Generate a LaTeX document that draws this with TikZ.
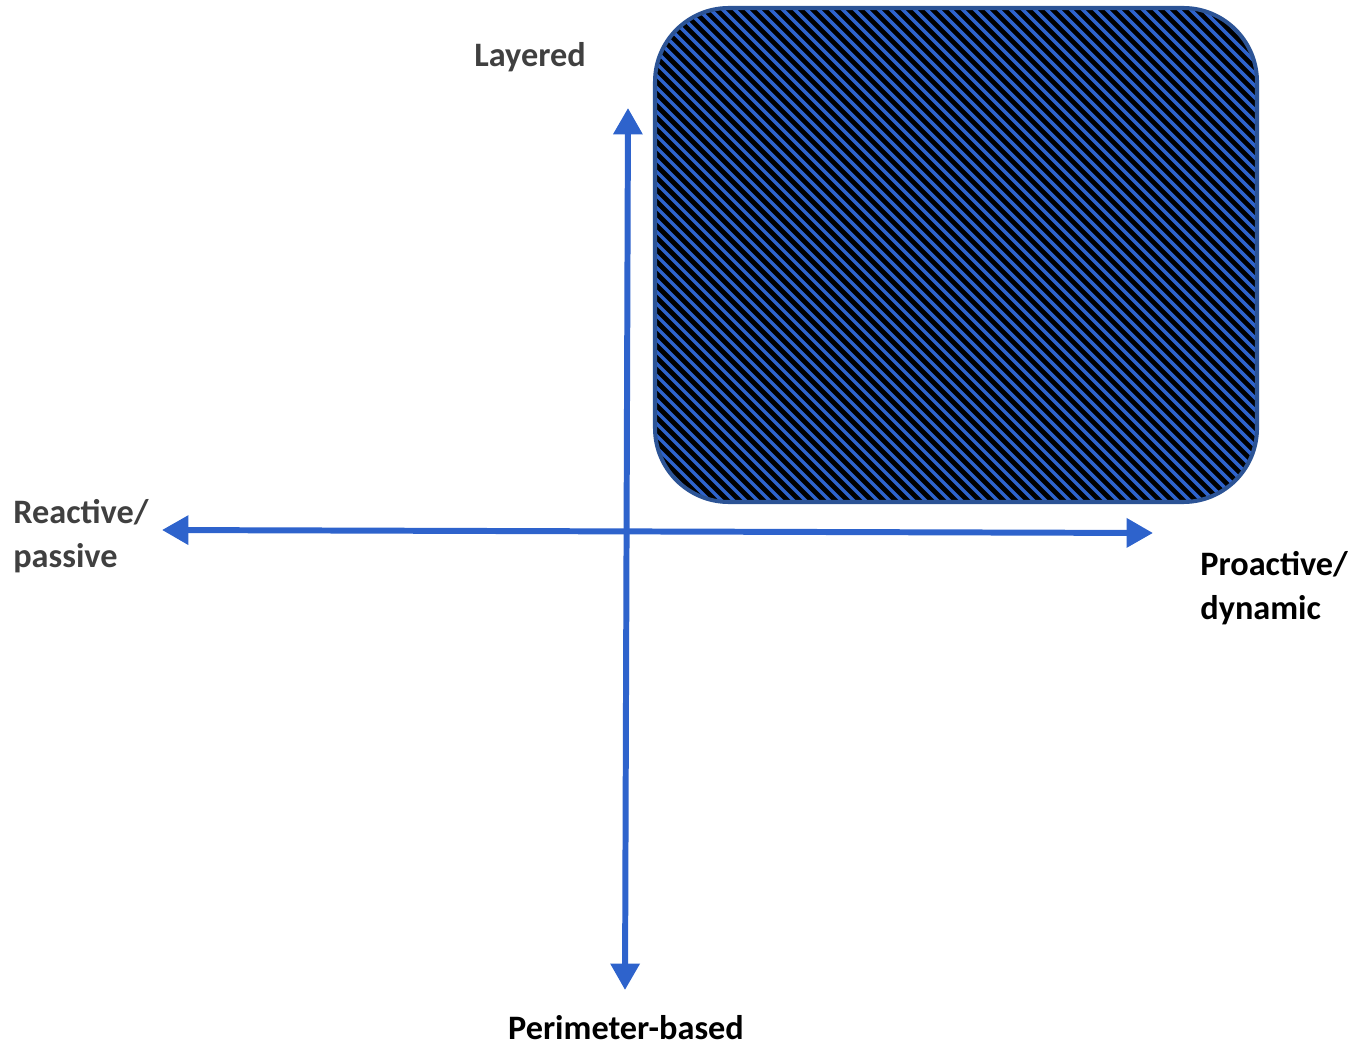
\documentclass[tikz,border=0pt]{standalone}
\usepackage{fontspec}
\setmainfont{Carlito}
\usepackage{xcolor}
\usepackage{tikz}
\usetikzlibrary{arrows.meta, positioning}
\definecolor{axiscolor}{RGB}{46,99,204}
\definecolor{framecolor}{RGB}{44,84,150}
\definecolor{labelgray}{RGB}{64,64,64}

\tikzset{
    axis/.style={draw=axiscolor, line width=3.4pt, {Triangle[length=15pt,width=16pt]}-{Triangle[length=15pt,width=16pt]}},
    axislabel/.style={font=\fontsize{19.5}{25}\selectfont\bfseries, inner sep=0pt, align=left},
}

\begin{document}
\begin{tikzpicture}[x=0.02cm, y=-0.02cm]
    \useasboundingbox (0,0) rectangle (1358,1047);

    % Quadrant box
    \begin{scope}
        \clip[rounded corners=42pt] (655,8) rectangle (1257,502);
        \fill[black] (655,8) rectangle (1257,502);
        \foreach \x in {137,149,...,1261}
            \draw[axiscolor, line width=2pt] (\x,0) -- ++(520,520);
    \end{scope}
    \draw[framecolor, line width=2.3pt, rounded corners=42pt] (655,8) rectangle (1257,502);

    % Axes
    \coordinate (top) at (628,108);
    \coordinate (bottom) at (625,990);
    \coordinate (left) at (162,530);
    \coordinate (right) at (1153,533);
    \draw[axis] (bottom) -- (top);
    \draw[axis] (left) -- (right);

    % Labels
    \node[axislabel, text=labelgray] (layered) at (530,57) {Layered};
    \node[axislabel, text=labelgray, anchor=west] (reactive) at (13,536) {Reactive/\\passive};
    \node[axislabel, text=black, anchor=west] (proactive) at (1200,588) {Proactive/\\dynamic};
    \node[axislabel, text=black] (perimeter) at (626,1028) {Perimeter-based};
\end{tikzpicture}
\end{document}
